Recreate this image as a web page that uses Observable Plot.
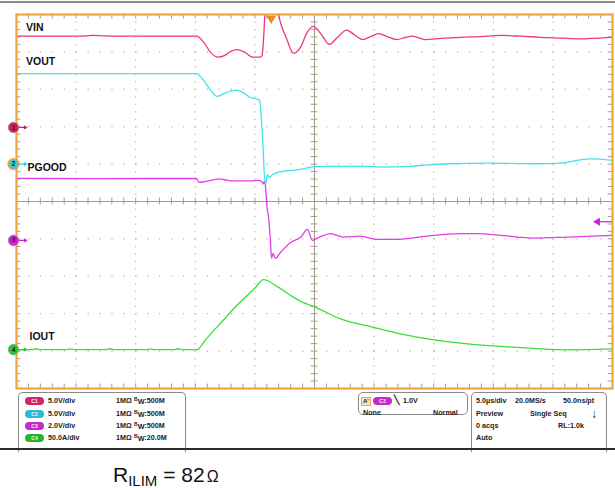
<!DOCTYPE html>
<html><head><meta charset="utf-8">
<script src="https://cdn.jsdelivr.net/npm/d3@7"></script>
<script src="https://cdn.jsdelivr.net/npm/@observablehq/plot@0.6"></script>
<style>
html,body{margin:0;padding:0;background:#fff;}
#wrap{position:relative;width:615px;height:488px;overflow:hidden;font-family:"Liberation Sans",Arial,sans-serif;}
#chart{position:absolute;left:0;top:0;}
.topbar{position:absolute;left:0;top:1px;width:615px;height:2px;background:#8c8c8c;}
.bottomline{position:absolute;left:0;top:448px;width:615px;height:1.5px;background:#2a2a2a;}
.box{position:absolute;border:1px solid #8a8a8a;border-radius:5px;box-sizing:border-box;background:#fff;}
.t{position:absolute;font-size:7.2px;font-weight:bold;color:#1a1a1a;white-space:nowrap;line-height:8px;}
.pill{position:absolute;width:19px;height:8px;border-radius:4px;font-size:5px;line-height:8px;text-align:center;color:#f4f4f4;font-weight:bold;}
.cap{position:absolute;left:113px;top:464px;font-size:21px;line-height:21px;color:#111;white-space:nowrap;}
.cap sub{font-size:15px;vertical-align:-4px;line-height:0;}
.cap .om{font-size:16px;margin-left:2px;}
</style></head>
<body>
<div id="wrap">
  <div class="topbar"></div>
  <div id="chart"></div>
  <div id="panel"></div>
  <div class="bottomline"></div>
  <div class="cap">R<sub>ILIM</sub> = 82<span class="om">Ω</span></div>
</div>
<script>
// ---- Data (time in µs, values in channel units) ----
const vin = [[0,12.2],[5.5,12.2],[6.3,12.3],[7.3,12.25],[8.2,12.2],[15.1,12.2],[15.7,11.4],[16.3,10.0],[16.9,9.4],[17.45,9.6],[17.95,10.15],[18.5,10.4],[19.1,10.1],[19.8,9.4],[20.45,9.4],[20.6,9.6],[20.75,12.5],[20.85,15.3],[21.4,18.5],[21.95,15.3],[22.15,14.0],[22.65,11.9],[23.25,9.9],[23.85,10.8],[24.35,12.6],[24.9,13.5],[25.5,12.6],[26.25,11.1],[26.9,12.0],[27.7,13.0],[28.35,12.4],[29.05,11.75],[29.7,12.15],[30.4,12.55],[31.1,12.15],[31.9,11.75],[32.55,12.0],[33.2,12.2],[34.3,11.75],[35.6,11.9],[37.25,12.05],[38.9,12.15],[40.6,12.3],[42.3,12.2],[43.95,12.05],[45.65,11.95],[47.3,11.85],[48.15,11.9],[50,12.05]];
const vout = [[0,12.1],[15.1,12.1],[15.7,11.2],[16.3,9.85],[16.85,9.05],[17.45,9.45],[17.95,9.75],[18.45,9.9],[19.05,9.55],[19.6,8.9],[20.15,8.7],[20.4,8.5],[20.55,5.8],[20.7,1.8],[20.78,-1.1],[20.9,-2.6],[21.05,-1.4],[21.2,-1.8],[21.5,-1.4],[22.15,-1.0],[23.0,-0.85],[23.85,-0.7],[24.9,-0.35],[26.3,-0.3],[29.45,-0.3],[30.5,-0.4],[33.05,-0.3],[34.5,-0.1],[36.15,0.05],[39.5,0.12],[43.4,0.05],[45.65,0.12],[47.05,0.5],[48.15,0.7],[50,0.5]];
const pgood = [[0,3.32],[7,3.3],[15.1,3.32],[15.3,3.1],[15.7,3.13],[16.3,3.21],[16.95,3.29],[17.55,3.24],[18.1,3.18],[18.8,3.18],[19.65,3.18],[20.3,3.21],[20.55,3.16],[20.72,3.02],[20.8,3.16],[20.9,2.83],[21.0,1.87],[21.15,1.23],[21.3,0],[21.4,-0.96],[21.52,-0.7],[21.73,-0.96],[22.15,-0.64],[23.0,-0.11],[23.85,0.18],[24.4,0.59],[24.83,0],[25.17,0.1],[26.35,0.36],[27.43,0.18],[28.86,0.23],[30.28,0.05],[31.96,0.05],[33.3,0.14],[34.98,0.27],[37.25,0.36],[38.67,0.36],[40.6,0.27],[42.03,0.18],[43.37,0.12],[46.22,0.18],[50,0.27]];
const iout = [[0,0],[1.4,0],[1.5,0.8],[1.8,0.8],[1.9,0],[4.3,0],[4.4,0.7],[4.7,0.7],[4.8,0],[7.6,0],[7.7,0.8],[8.0,0.8],[8.1,0],[11.0,0],[11.1,0.7],[11.4,0.7],[11.5,0],[13.3,0],[13.4,0.8],[13.7,0.8],[13.8,0],[15.15,0],[15.85,13],[16.7,28],[17.55,43],[18.35,57],[19.2,70],[20.05,83],[20.72,93.6],[21.9,84.2],[23.25,69.9],[23.85,64.5],[25.1,56.5],[27.2,41],[29.95,29.8],[32.2,21],[35,13],[37.85,7.6],[40.6,4.4],[43.35,1.7],[46.2,-0.3],[50,0.9]];

const channelNames = ["VIN", "VOUT", "PGOOD", "IOUT"];
const channelIds = ["1", "2", "3", "4"];
const unitsPerDiv = [5, 5, 2, 50];
const groundDiv = [1.98, 1.0, -1.04, -3.96];
const divLabels = ["5.0V/div", "5.0V/div", "2.0V/div", "50.0A/div"];
const bwLabels = ["500M", "500M", "500M", "20.0M"];
const triggerTime = 21.37;   // µs
const triggerLevel = 1.0;    // V on C3
const triggerChannel = 2;    // index of C3
const timebase = ["5.0µs/div", "20.0MS/s", "50.0ns/pt"];

// ---- Styles ----
const traceColor = ["#f0367e", "#3fe4ef", "#e33de6", "#3ade3a"];
const markerColor = ["#d9186a", "#27cfe4", "#d61ad8", "#22cc22"];
const pillColor = ["#d42470", "#2bbad6", "#c22bcc", "#22b822"];
const gridColor = "#bdb5a3";
const axisColor = "#a69d88";

const series = [vin, vout, pgood, iout];
const majorX = d3.range(5, 50, 5).filter(v => v !== 25);
const majorY = d3.range(-4, 5, 1).filter(v => v !== 0);
const minorX = d3.range(0, 50.001, 1);
const minorY = d3.range(-5, 5.001, 0.2);

const traceOrder = [2, 0, 1, 3];
const traces = traceOrder.map(i => Plot.line(series[i], {
  x: d => d[0], y: d => d[1] / unitsPerDiv[i] + groundDiv[i],
  stroke: traceColor[i], strokeWidth: 1.3, clip: true, curve: "monotone-x"
}));

const trigY = triggerLevel / unitsPerDiv[triggerChannel] + groundDiv[triggerChannel];

const chart = Plot.plot({
  width: 615, height: 392,
  marginLeft: 16, marginRight: 3, marginTop: 14, marginBottom: 4,
  x: {domain: [0, 50], axis: null},
  y: {domain: [-5, 5], axis: null},
  color: {type: "identity"},
  style: {background: "transparent", fontFamily: "Liberation Sans, Arial, sans-serif"},
  marks: [
    Plot.gridX(majorX, {stroke: gridColor, strokeOpacity: 1, strokeWidth: 1.2, strokeDasharray: "1.3,6.18"}),
    Plot.gridY(majorY, {stroke: gridColor, strokeOpacity: 1, strokeWidth: 1.2, strokeDasharray: "1.3,10.62"}),
    Plot.ruleX([25], {stroke: axisColor, strokeWidth: 1}),
    Plot.ruleY([0], {stroke: axisColor, strokeWidth: 1}),
    Plot.ruleY(minorY, {y: d => d, x1: 24.72, x2: 25.28, stroke: axisColor}),
    Plot.ruleX(minorX, {x: d => d, y1: -0.09, y2: 0.09, stroke: axisColor}),
    Plot.ruleY(minorY, {y: d => d, x1: 0, x2: 0.36, stroke: axisColor}),
    Plot.ruleY(minorY, {y: d => d, x1: 49.64, x2: 50, stroke: axisColor}),
    Plot.ruleX(minorX, {x: d => d, y1: 5, y2: 4.88, stroke: axisColor}),
    Plot.ruleX(minorX, {x: d => d, y1: -5, y2: -4.88, stroke: axisColor}),
    ...traces,
    Plot.frame({stroke: "#f2a33a", strokeWidth: 2.2}),
    // trace labels
    Plot.text([channelNames[0]], {x: 0.8, y: 4.65, text: d => d, textAnchor: "start", fontWeight: "bold", fontSize: 10.5, fill: "#111"}),
    Plot.text([channelNames[1]], {x: 0.8, y: 3.74, text: d => d, textAnchor: "start", fontWeight: "bold", fontSize: 10.5, fill: "#111"}),
    Plot.text([channelNames[2]], {x: 0.92, y: 0.91, text: d => d, textAnchor: "start", fontWeight: "bold", fontSize: 10.5, fill: "#111"}),
    Plot.text([channelNames[3]], {x: 1.09, y: -3.61, text: d => d, textAnchor: "start", fontWeight: "bold", fontSize: 10.5, fill: "#111"}),
    // channel ground markers
    Plot.arrow(channelIds, {x1: 0.2, x2: 0.85, y1: (d, i) => groundDiv[i], y2: (d, i) => groundDiv[i],
      stroke: (d, i) => markerColor[i], strokeWidth: 1.2, headLength: 3.5, bend: 0}),
    Plot.dot(channelIds, {x: -0.25, y: (d, i) => groundDiv[i], r: 5.3, fill: (d, i) => markerColor[i],
      stroke: (d, i) => i === 1 ? "#f2a33a" : "#9a9a9a", strokeWidth: (d, i) => i === 1 ? 1.8 : 0.8}),
    Plot.text(channelIds, {x: -0.25, y: (d, i) => groundDiv[i], text: d => d, fontSize: 6.5, fontWeight: "bold", fill: "#222"}),
    // trigger position and level
    Plot.dot([triggerTime], {x: d => d, y: 5, symbol: "triangle", rotate: 180, r: 3.6, fill: "#f08a1e", dy: 4}),
    Plot.ruleY([trigY], {x1: 48.6, x2: 50, stroke: markerColor[2], strokeWidth: 1.2}),
    Plot.dot([trigY], {x: 48.75, y: d => d, symbol: "triangle", rotate: -90, r: 3, fill: markerColor[2]})
  ]
});
document.getElementById("chart").appendChild(chart);

// ---- Scope info panel ----
const panel = document.getElementById("panel");
function box(l, t, w, h, extra) {
  const b = document.createElement("div");
  b.className = "box";
  b.style.cssText = `left:${l}px;top:${t}px;width:${w}px;height:${h}px;${extra || ""}`;
  panel.appendChild(b);
}
function txt(l, t, html, extra) {
  const e = document.createElement("div");
  e.className = "t";
  e.style.cssText = `left:${l}px;top:${t}px;${extra || ""}`;
  e.innerHTML = html;
  panel.appendChild(e);
}
function pill(l, t, label, color) {
  const e = document.createElement("div");
  e.className = "pill";
  e.style.cssText = `left:${l}px;top:${t}px;background:${color};`;
  e.textContent = label;
  panel.appendChild(e);
}
box(18, 392, 168, 60, "border-bottom:none;border-bottom-left-radius:0;border-bottom-right-radius:0;");
const rowTops = [397, 410, 422, 434];
channelIds.forEach((id, i) => {
  pill(25, rowTops[i], "C" + id, pillColor[i]);
  txt(48, rowTops[i], divLabels[i]);
  txt(116, rowTops[i], "1MΩ");
  txt(134, rowTops[i], `<span style="font-size:5px;position:relative;top:-2px">B</span><span style="position:relative;top:1px">W</span>:${bwLabels[i]}`);
});
box(358, 392, 110, 23);
txt(361, 397, "A'", "border:1px solid #f2a33a;background:#f6e3c8;padding:0 1px;line-height:7px;font-size:6px;");
pill(373, 397, "C3", pillColor[2]);
txt(394, 396, "╲", "font-size:9px;");
txt(403, 397, triggerLevel.toFixed(1) + "V");
txt(363, 409, "None");
txt(433, 409, "Normal");
box(471, 392, 136, 60, "border-bottom:none;border-bottom-left-radius:0;border-bottom-right-radius:0;");
txt(476, 397, timebase[0]);
txt(515, 397, timebase[1]);
txt(563, 397, timebase[2]);
txt(476, 410, "Preview");
txt(530, 410, "Single Seq");
txt(591, 408, "↓", "font-size:12px;line-height:12px;");
txt(476, 422, "0 acqs");
txt(558, 422, "RL:1.0k");
txt(476, 434, "Auto");
</script>
</body></html>
